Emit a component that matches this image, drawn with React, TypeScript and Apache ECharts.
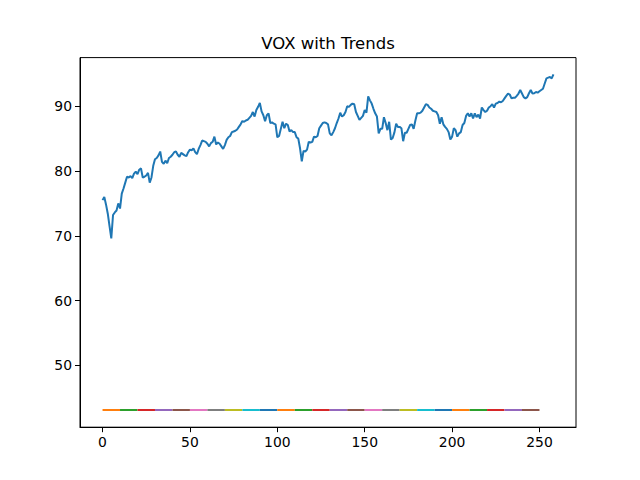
import { useEffect, useRef } from 'react';
import * as echarts from 'echarts';

// daily closing prices, one per trading day (index 0..258)
const closes: number[] = [
  75.5, 76.0, 74.8, 73.4, 71.5, 69.6, 73.2, 73.6, 73.9, 75.0,
  74.2, 76.5, 77.3, 78.2, 79.1, 79.0, 79.2, 78.9, 79.6, 79.9,
  79.5, 80.2, 80.4, 79.0, 79.1, 79.3, 79.7, 78.2, 79.0, 80.8,
  81.8, 82.0, 82.4, 83.0, 81.4, 81.1, 81.6, 81.2, 82.0, 82.2,
  82.5, 82.9, 83.0, 82.5, 82.2, 82.8, 82.6, 82.4, 82.3, 82.9,
  83.3, 83.2, 83.5, 82.9, 82.6, 83.4, 84.0, 84.7, 84.6, 84.5,
  84.2, 83.8, 84.3, 84.5, 85.3, 84.1, 84.4, 84.2, 83.8, 83.4,
  84.0, 84.8, 85.2, 85.4, 86.0, 86.1, 86.2, 86.4, 86.8, 87.2,
  87.7, 87.6, 87.8, 87.9, 88.2, 88.5, 89.1, 88.4, 89.4, 89.9,
  90.5, 89.2, 88.6, 87.7, 88.6, 88.9, 87.4, 87.5, 87.3, 87.2,
  85.2, 85.4, 86.5, 87.6, 86.6, 87.3, 87.1, 86.1, 86.3, 86.0,
  86.0, 85.2, 85.0, 83.5, 81.5, 83.1, 83.0, 83.3, 84.5, 84.4,
  84.5, 85.3, 85.2, 85.4, 86.6, 87.0, 87.4, 87.5, 87.4, 87.2,
  85.8, 85.5, 86.0, 86.6, 87.4, 88.1, 89.0, 88.4, 88.6, 89.1,
  90.0, 89.9, 90.2, 90.4, 90.3, 89.1, 88.5, 87.9, 88.2, 88.5,
  89.4, 89.0, 91.5, 90.9, 90.4, 89.6, 88.9, 88.4, 85.8, 86.5,
  86.5, 88.3, 87.4, 86.3, 87.6, 84.85, 85.1, 85.95, 87.3, 86.8,
  86.8, 86.6, 84.6, 85.9, 85.9, 86.5, 87.1, 87.2, 86.5, 87.8,
  88.9, 88.9, 89.0, 89.3, 89.8, 90.3, 90.2, 89.8, 89.6, 89.3,
  89.2, 89.1, 88.6, 87.3, 88.3, 87.2, 86.8, 86.5, 86.0, 84.85,
  85.3, 86.6, 86.3, 85.3, 85.8, 86.0, 87.1, 87.4, 88.5, 88.9,
  88.4, 88.9, 88.1, 88.9, 88.3, 88.7, 88.1, 89.8, 89.4, 89.1,
  89.3, 89.8, 90.0, 90.3, 89.8, 90.4, 90.5, 90.7, 90.6, 90.8,
  91.2, 91.6, 91.95, 91.8, 91.2, 91.3, 91.3, 91.6, 91.95, 92.5,
  91.95, 91.4, 91.2, 91.4, 92.0, 92.5, 91.95, 92.0, 92.2, 92.1,
  92.3, 92.5, 92.7, 93.5, 94.3, 94.4, 94.5, 94.3, 94.9,
];

// trend segments: start index, end index, level
const trendStarts: number[] = [
  0, 10, 20, 30, 40, 50, 60, 70, 80, 90, 100, 110, 120, 130, 140, 150,
  160, 170, 180, 190, 200, 210, 220, 230, 240,
];
const trendEnds: number[] = [
  10, 20, 30, 40, 50, 60, 70, 80, 90, 100, 110, 120, 130, 140, 150, 160,
  170, 180, 190, 200, 210, 220, 230, 240, 250,
];
const trendLevels: number[] = [
  43.1, 43.1, 43.1, 43.1, 43.1, 43.1, 43.1, 43.1, 43.1, 43.1, 43.1, 43.1, 43.1,
  43.1, 43.1, 43.1, 43.1, 43.1, 43.1, 43.1, 43.1, 43.1, 43.1, 43.1, 43.1,
];

const xTicks = [0, 50, 100, 150, 200, 250];
const yTicks = [50, 60, 70, 80, 90];

// matplotlib tab10 cycle
const palette = [
  '#1f77b4', '#ff7f0e', '#2ca02c', '#d62728', '#9467bd',
  '#8c564b', '#e377c2', '#7f7f7f', '#bcbd22', '#17becf',
];

const FONT = 'DejaVu Sans';

export default function App() {
  const chartRef = useRef<HTMLDivElement>(null);

  useEffect(() => {
    if (!chartRef.current) return;
    const chart = echarts.init(chartRef.current, undefined, { renderer: 'svg' });

    const trendSeries = trendStarts.map((s, k) => ({
      type: 'line',
      data: [
        [s, trendLevels[k]],
        [trendEnds[k], trendLevels[k]],
      ],
      showSymbol: false,
      lineStyle: { color: palette[(k + 1) % 10], width: 2 },
      itemStyle: { color: palette[(k + 1) % 10] },
    }));

    const axisCommon = {
      type: 'value',
      axisLine: { show: true, onZero: false, lineStyle: { color: '#000', width: 1 } },
      axisTick: { show: true, inside: false, length: 5, lineStyle: { color: '#000', width: 1 } },
      splitLine: { show: false },
    };

    const option: echarts.EChartsOption = {
      animation: false,
      title: {
        text: 'VOX with Trends',
        left: 328,
        top: 35,
        padding: 0,
        textAlign: 'center',
        textStyle: { fontFamily: FONT, fontSize: 16.5, fontWeight: 'normal', color: '#000' },
      },
      grid: {
        left: 80,
        right: 64,
        top: 57.6,
        bottom: 52.8,
        show: true,
        borderColor: '#000',
        borderWidth: 1,
        backgroundColor: '#fff',
      },
      xAxis: {
        ...axisCommon,
        min: -12.9,
        max: 270.9,
        axisTick: { ...axisCommon.axisTick, customValues: xTicks },
        axisLabel: {
          customValues: xTicks,
          margin: 8,
          fontFamily: FONT,
          fontSize: 13.9,
          color: '#000',
        },
      } as any,
      yAxis: {
        ...axisCommon,
        min: 40.45,
        max: 97.5,
        axisTick: { ...axisCommon.axisTick, customValues: yTicks },
        axisLabel: {
          customValues: yTicks,
          margin: 8,
          fontFamily: FONT,
          fontSize: 13.9,
          color: '#000',
        },
      } as any,
      series: [
        {
          type: 'line',
          data: closes.map((v, i) => [i, v]),
          showSymbol: false,
          lineStyle: { color: palette[0], width: 2 },
          itemStyle: { color: palette[0] },
        },
        ...trendSeries,
      ] as any,
    };

    chart.setOption(option);
    return () => chart.dispose();
  }, []);

  return (
    <div
      ref={chartRef}
      style={{ position: 'fixed', left: 0, top: 0, width: 640, height: 480, background: '#fff' }}
    />
  );
}
